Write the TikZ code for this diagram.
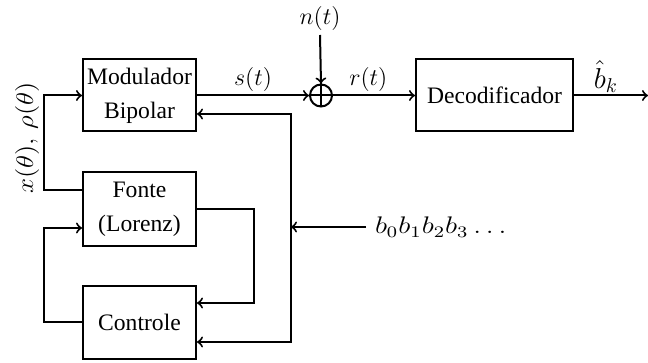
\documentclass[tikz,border=0pt]{standalone}
\usepackage{fontspec}
\setmainfont{Liberation Serif}
\begin{document}
\begin{tikzpicture}[x=0.5pt,y=-0.5pt,line width=1pt,>=to,
  blk/.style={draw,rectangle,align=center,inner sep=0pt,font=\fontsize{11.8}{17}\selectfont},
  lbl/.style={font=\large,inner sep=1.5pt}]
\useasboundingbox (0,0) rectangle (648,363);
% blocks
\node[blk,minimum width=56.5pt,minimum height=36pt] (mod) at (139.5,95.5) {Modulador\\Bipolar};
\node[blk,minimum width=56.5pt,minimum height=37pt] (fonte) at (139.5,209) {Fonte\\(Lorenz)};
\node[blk,minimum width=56.5pt,minimum height=36.5pt] (ctrl) at (139.5,322.5) {Controle};
\node[blk,minimum width=78.5pt,minimum height=36pt] (dec) at (494.5,95.5) {Decodificador};
% summing junction
\node[draw,circle,minimum size=11pt,inner sep=0pt] (sum) at (321,95.5) {};
\draw (sum.north) -- (sum.south);
\draw (sum.west) -- (sum.east);
% labels / sources
\node[lbl] (nt) at (320,19) {$n(t)$};
\coordinate (out) at (648,95.5);
\coordinate (j) at (291,227);
\node[lbl,anchor=west,inner xsep=4pt] (bseq) at (366,227) {\scalebox{1.2}[1]{$b_0b_1b_2b_3\ldots$}};
\node[lbl,rotate=90] (xl) at (27,138) {\scalebox{1.12}[1]{$x(\theta),\,\rho(\theta)$}};
% main path
\draw[->] (mod.east) -- node[lbl,above] (st) {$s(t)$} (sum.west);
\draw[->] (nt.south) -- (sum.north);
\draw[->] (sum.east) -- node[lbl,above,pos=0.43] (rt) {$r(t)$} (dec.west);
\draw[->] (dec.east) -- node[lbl,above,pos=0.43,font=\Large,inner sep=1pt] (bk) {$\hat{b}_k$} (out);
% feedback loops
\draw[->] ([yshift=9.5pt]fonte.west) -- ++(-19pt,0) |- (mod.west);
\draw[->] (ctrl.west) -- ++(-19pt,0) |- ([yshift=-9.5pt]fonte.west);
\draw[->] (fonte.east) -- ++(28.5pt,0) |- ([yshift=9.75pt]ctrl.east);
\draw[->] (bseq.west) -- (j);
\draw[->] (j) |- ([yshift=-9.25pt]mod.east);
\draw[->] (j) |- ([yshift=-9.75pt]ctrl.east);
\end{tikzpicture}
\end{document}
